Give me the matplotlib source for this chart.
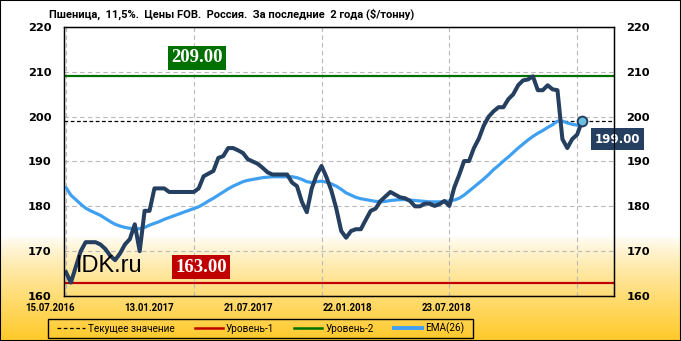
import numpy as np
import matplotlib.pyplot as plt
from matplotlib.patches import Rectangle
from matplotlib.colors import to_rgb

# weekly prices, $/t, 15.07.2016 .. 23.07.2018
price = [165.3, 163.0, 166.5, 170.0, 172.0, 172.0, 172.0, 171.5, 170.5, 169.0,
         168.0, 169.5, 171.5, 172.7, 176.0, 170.0, 179.0, 179.0, 184.0, 184.0,
         184.0, 183.2, 183.2, 183.2, 183.2, 183.2, 183.2, 184.0, 186.7, 187.3,
         187.9, 190.8, 191.2, 193.0, 193.0, 192.5, 191.9, 190.5, 190.0, 189.5,
         188.6, 187.6, 187.1, 187.1, 187.1, 187.1, 185.3, 184.5, 181.0, 178.7,
         184.0, 187.0, 189.0, 186.5, 183.5, 179.5, 174.5, 173.0, 174.5, 174.9,
         174.9, 177.0, 179.0, 179.5, 181.2, 182.2, 183.2, 182.6, 182.0, 181.8,
         181.2, 180.0, 180.0, 180.6, 180.6, 180.1, 180.5, 181.2, 180.1, 184.2,
         187.0, 190.1, 190.1, 193.0, 195.1, 198.0, 200.0, 201.2, 202.1, 202.1,
         203.9, 205.0, 207.0, 208.1, 208.3, 209.0, 205.9, 205.9, 207.0, 206.1,
         205.9, 195.0, 193.0, 195.0, 196.0, 199.0]

ema = [184.2, 182.5, 181.5, 180.5, 179.6, 179.0, 178.5, 178.0, 177.3, 176.6,
       176.0, 175.6, 175.3, 175.1, 175.0, 175.0, 175.3, 175.8, 176.2, 176.6,
       177.1, 177.5, 177.9, 178.3, 178.7, 179.1, 179.5, 179.9, 180.5, 181.2,
       181.8, 182.5, 183.2, 183.9, 184.5, 185.0, 185.5, 185.8, 186.0, 186.2,
       186.4, 186.5, 186.6, 186.6, 186.6, 186.6, 186.6, 186.4, 186.0, 185.5,
       185.3, 185.5, 185.6, 185.4, 185.0, 184.5, 183.8, 183.0, 182.5, 182.0,
       181.7, 181.5, 181.3, 181.1, 181.0, 181.1, 181.3, 181.4, 181.5, 181.5,
       181.4, 181.3, 181.2, 181.1, 181.0, 181.0, 181.0, 181.1, 181.2, 181.4,
       181.8, 182.5, 183.4, 184.3, 185.2, 186.1, 187.1, 188.2, 189.1, 190.1,
       191.0, 192.0, 193.0, 193.9, 194.8, 195.6, 196.3, 196.9, 197.6, 198.2,
       199.0, 199.0, 198.6, 198.3, 198.1, 198.2]

level1 = 163.0
level2 = 209.0
current = 199.0

date_labels = ["15.07.2016", "13.01.2017", "21.07.2017", "22.01.2018", "23.07.2018"]
date_weeks = [0, 26, 52, 78, 104]
yticks = [160, 170, 180, 190, 200, 210, 220]

title = "Пшеница,  11,5%.  Цены FOB.  Россия.  За последние  2 года ($/тонну)"

NAVY = "#243f60"
EMA_C = "#3fa0f2"
RED = "#c00000"
GREEN = "#007000"
NARROW = ["Roboto", "DejaVu Sans"]

W, H = 681, 341
fig = plt.figure(figsize=(W / 100, H / 100), dpi=100)

# background: white fading into yellow at the bottom
bg = fig.add_axes([0, 0, 1, 1], zorder=-10)
rows = np.arange(H)
frac = np.clip((rows - 235) / (H - 235), 0, 1) ** 0.8
c0 = np.array(to_rgb("#ffffff"))
c1 = np.array(to_rgb("#ffc928"))
grad = c0[None, :] * (1 - frac[:, None]) + c1[None, :] * frac[:, None]
bg.imshow(grad[:, None, :], aspect="auto", extent=[0, 1, 0, 1])
bg.set_axis_off()

ax = fig.add_axes([64 / W, 45 / H, 550 / W, 269 / H])
ax.set_facecolor("none")
x = np.arange(len(price))

ax.plot(x, ema, color=EMA_C, lw=2.3, zorder=3, solid_capstyle="round")
ax.plot(x, price, color=NAVY, lw=2.9, zorder=4, solid_joinstyle="round")
ax.axhline(current, color="black", lw=0.9, ls=(0, (3, 2)), zorder=2)
ax.axhline(level1, color=RED, lw=1.6, zorder=2)
ax.axhline(level2, color=GREEN, lw=1.6, zorder=2)
ax.plot(x[-1], price[-1], "o", ms=7, mfc="#6cbde0", mec=NAVY, mew=1.4, zorder=5)

ax.set_xlim(-0.4, 111.5)
ax.set_ylim(160, 220)
ax.set_yticks(yticks)
ax.set_xticks(date_weeks)
ax.set_xticklabels([])
ax.grid(True, color="#b8b8b8", ls=(0, (4, 3)), lw=0.8)
ax.tick_params(length=0, pad=9)
for lab in ax.get_yticklabels():
    lab.set_fontweight("bold")
    lab.set_fontsize(8.2)
for s in ax.spines.values():
    s.set_linewidth(1.0)

ax2 = ax.twinx()
ax2.set_ylim(160, 220)
ax2.set_yticks(yticks)
ax2.tick_params(length=0, pad=9)
for lab in ax2.get_yticklabels():
    lab.set_fontweight("bold")
    lab.set_fontsize(8.2)

# date labels (drawn offset from the grid like in the source)
for k, lab in enumerate(date_labels):
    ax.text(-0.025 + 0.18 * k, -0.025, lab, transform=ax.transAxes,
            ha="center", va="top", fontsize=6.9, fontweight="bold", family=NARROW)

# level boxes
ax.text(26.7, 213.1, "%.2f" % level2, ha="center", va="center", color="white",
        fontsize=13.5, fontweight="bold", family="Liberation Serif",
        bbox=dict(boxstyle="square,pad=0.18", fc=GREEN, ec="none"), zorder=6)
ax.text(27.5, 166.4, "%.2f" % level1, ha="center", va="center", color="white",
        fontsize=13.5, fontweight="bold", family="Liberation Serif",
        bbox=dict(boxstyle="square,pad=0.18", fc=RED, ec="none"), zorder=6)
ax.text(112.2, 195.0, "%.2f" % current, ha="center", va="center", color="white",
        fontsize=8.5, fontweight="bold", clip_on=False,
        bbox=dict(boxstyle="square,pad=0.35", fc=NAVY, ec="none"), zorder=6)

ax.text(2.0, 166.6, "IDK.ru", ha="left", va="center", fontsize=17,
        family="Liberation Sans", zorder=6)

fig.text(49 / W, 1 - 14 / H, title, ha="left", va="center",
         fontsize=8.0, fontweight="bold", family=NARROW)

handles = [
    plt.Line2D([], [], color="black", lw=0.9, ls=(0, (3, 2))),
    plt.Line2D([], [], color=RED, lw=1.8),
    plt.Line2D([], [], color=GREEN, lw=1.8),
    plt.Line2D([], [], color=EMA_C, lw=2.8),
]
leg = fig.legend(handles, ["Текущее значение", "Уровень-1", "Уровень-2", "EMA(26)"],
                 loc="center", bbox_to_anchor=((48 + 473) / 2 / W, (341 - 328.5) / H),
                 ncol=4, prop={"family": NARROW, "size": 7.2}, frameon=False,
                 handlelength=2.8, handletextpad=0.3, columnspacing=2.0,
                 borderpad=0, borderaxespad=0)
fig.patches.append(Rectangle((48 / W, 3 / H), 425 / W, 19 / H, transform=fig.transFigure,
                             fill=False, ec="black", lw=1.0))

fig.patches.append(Rectangle((0, 0), 1, 1, transform=fig.transFigure, fill=False,
                             ec="black", lw=1.5, zorder=20))

fig.savefig("out.png", dpi=100)
